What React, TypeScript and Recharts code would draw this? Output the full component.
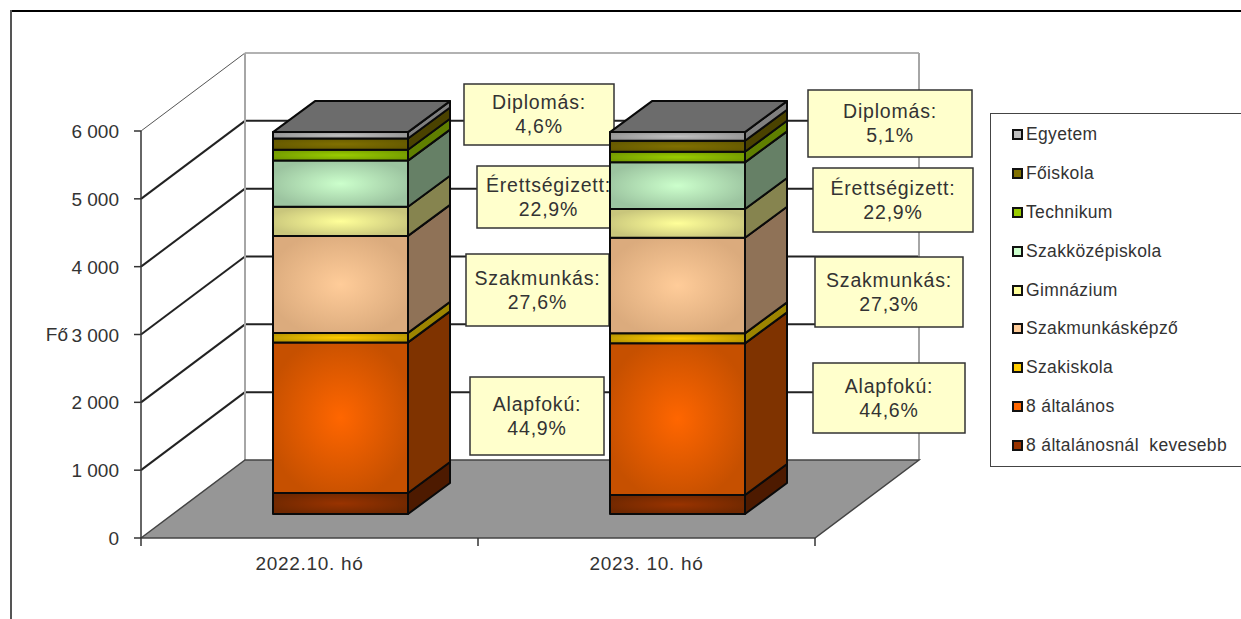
import { Bar, BarChart, CartesianGrid, Legend, XAxis, YAxis } from 'recharts'

const categories = ['2022.10. hó', '2023. 10. hó']

const lessThanEight = [310, 280]
const eightGrades = [2220, 2236]
const vocationalSchool = [140, 147]
const skilledTraining = [1430, 1410]
const grammarSchool = [430, 423]
const secondaryVocational = [680, 688]
const technicalSchool = [160, 156]
const college = [165, 162]
const university = [95, 128]

const yTicks = [0, 1000, 2000, 3000, 4000, 5000, 6000]

const calloutNames = ['Diplomás:', 'Érettségizett:', 'Szakmunkás:', 'Alapfokú:']
const calloutValues = [
    ['4,6%', '22,9%', '27,6%', '44,9%'],
    ['5,1%', '22,9%', '27,3%', '44,6%'],
]

// left, top, right, bottom of the yellow boxes
const calloutBoxes = [
    [
        [464, 84, 614, 145],
        [477, 166, 620, 228],
        [466, 254, 609, 326],
        [470, 377, 604, 455],
    ],
    [
        [808, 90, 972, 157],
        [813, 168, 973, 232],
        [815, 257, 963, 327],
        [813, 363, 965, 433],
    ],
]

const series = [
    { key: 'less', name: '8 általánosnál  kevesebb', values: lessThanEight, center: '#993300', edge: '#702800', side: '#4d1a00' },
    { key: 'eight', name: '8 általános', values: eightGrades, center: '#ff6600', edge: '#c65000', side: '#7f3300' },
    { key: 'voc', name: 'Szakiskola', values: vocationalSchool, center: '#ffcc00', edge: '#bd9900', side: '#9c8400' },
    { key: 'skilled', name: 'Szakmunkásképző', values: skilledTraining, center: '#ffcc99', edge: '#dbab7d', side: '#8f7257' },
    { key: 'gram', name: 'Gimnázium', values: grammarSchool, center: '#ffff99', edge: '#c9c67c', side: '#86844f' },
    { key: 'sec', name: 'Szakközépiskola', values: secondaryVocational, center: '#ccffcc', edge: '#9cc4a0', side: '#668066' },
    { key: 'tech', name: 'Technikum', values: technicalSchool, center: '#99cc00', edge: '#759c00', side: '#5f7f00' },
    { key: 'coll', name: 'Főiskola', values: college, center: '#807000', edge: '#665a00', side: '#4a4200' },
    { key: 'uni', name: 'Egyetem', values: university, center: '#c0c0c0', edge: '#969696', side: '#808080' },
]

const data = categories.map((name, i) => {
    const row: Record<string, string | number> = { name }
    series.forEach((s) => {
        row[s.key] = s.values[i]
    })
    return row
})

const FONT = '"Liberation Sans", Arial, sans-serif'
const TEXT = '#333'

// front plane of the chart box
const LEFT = 141
const RIGHT = 815
const TOP = 131
const BOTTOM = 538
// how far the back wall is pushed from the front plane
const WALL_DX = 104
const WALL_DY = 78
// bars stand in the middle of the floor
const BAR_DX = 31
const BAR_DY = 24
const BAR_DEPTH_X = 42
const BAR_DEPTH_Y = 31

const Block = (props: any) => {
    const { x, y, width, height, s, isTop } = props
    const x1 = x + BAR_DX
    const y1 = y - BAR_DY
    const x2 = x1 + width
    const y2 = y1 + height
    const dx = BAR_DEPTH_X
    const dy = BAR_DEPTH_Y
    return (
        <g stroke="#0a0a0a" strokeWidth={2} strokeLinejoin="round">
            <rect x={x1} y={y1} width={width} height={height} fill={`url(#front-${s.key})`} />
            <polygon
                points={`${x2},${y1} ${x2 + dx},${y1 - dy} ${x2 + dx},${y2 - dy} ${x2},${y2}`}
                fill={s.side}
            />
            {isTop && (
                <polygon
                    points={`${x1},${y1} ${x1 + dx},${y1 - dy} ${x2 + dx},${y1 - dy} ${x2},${y1}`}
                    fill="#6c6c6c"
                />
            )}
        </g>
    )
}

// grid lines run up the side wall and then along the back wall
const GridLine = (props: any) => {
    const { y1, index } = props
    if (index === 0 || y1 >= BOTTOM) return <g />
    const isTop = y1 <= TOP
    return (
        <g fill="none">
            <line
                x1={LEFT}
                y1={y1}
                x2={LEFT + WALL_DX}
                y2={y1 - WALL_DY}
                stroke={isTop ? '#555' : '#222'}
                strokeWidth={isTop ? 1 : 2}
            />
            <line
                x1={LEFT + WALL_DX}
                y1={y1 - WALL_DY}
                x2={RIGHT + WALL_DX}
                y2={y1 - WALL_DY}
                stroke={isTop ? '#999' : '#222'}
                strokeWidth={isTop ? 1.5 : 2}
            />
        </g>
    )
}

const YTick = (props: any) => {
    const { y, payload } = props
    const label = String(payload.value).replace(/\B(?=(\d{3})+$)/g, ' ')
    return (
        <g>
            <line x1={LEFT - 7} y1={y} x2={LEFT} y2={y} stroke="#333" strokeWidth={1.5} />
            <text x={119} y={y + 7} textAnchor="end" fontFamily={FONT} fontSize={19} fill={TEXT}>
                {label}
            </text>
        </g>
    )
}

const XTick = (props: any) => {
    const { x, payload, index } = props
    const band = (RIGHT - LEFT) / categories.length
    return (
        <g>
            <line x1={x - band / 2} y1={BOTTOM} x2={x - band / 2} y2={BOTTOM + 8} stroke="#333" strokeWidth={1.5} />
            {index === categories.length - 1 && (
                <line x1={x + band / 2} y1={BOTTOM} x2={x + band / 2} y2={BOTTOM + 8} stroke="#333" strokeWidth={1.5} />
            )}
            <text x={x} y={BOTTOM + 32} textAnchor="middle" fontFamily={FONT} fontSize={19} letterSpacing={0.7} fill={TEXT}>
                {payload.value}
            </text>
        </g>
    )
}

const LegendBox = (props: any) => {
    const items = [...(props.payload || [])].reverse()
    return (
        <div
            style={{
                boxSizing: 'border-box',
                width: 252,
                height: 354,
                background: '#fff',
                border: '1.5px solid #444',
                borderRight: 'none',
                paddingTop: 1,
                fontFamily: FONT,
                fontSize: 17.5,
                letterSpacing: 0.35,
                color: TEXT,
            }}
        >
            {items.map((item: any) => {
                const s = series.find((v) => v.name === item.value)
                return (
                    <div key={item.value} style={{ height: 38.9, display: 'flex', alignItems: 'center', whiteSpace: 'pre' }}>
                        <span
                            style={{
                                boxSizing: 'border-box',
                                width: 11,
                                height: 11,
                                marginLeft: 21,
                                marginRight: 3,
                                border: '2px solid #111',
                                background: s ? s.center : '#ccc',
                            }}
                        />
                        {item.value}
                    </div>
                )
            })}
        </div>
    )
}

const Callouts = () => (
    <g>
        {calloutBoxes.map((boxes, c) =>
            boxes.map((b, i) => {
                const cx = (b[0] + b[2]) / 2
                const cy = (b[1] + b[3]) / 2
                return (
                    <g key={`${c}-${i}`} fontFamily={FONT} fontSize={19.5} letterSpacing={0.8} fill={TEXT} textAnchor="middle">
                        <rect x={b[0]} y={b[1]} width={b[2] - b[0]} height={b[3] - b[1]} fill="#ffffcc" stroke="#333" strokeWidth={1.5} />
                        <text x={cx} y={cy - 5.5}>{calloutNames[i]}</text>
                        <text x={cx} y={cy + 18.5}>{calloutValues[c][i]}</text>
                    </g>
                )
            }),
        )}
    </g>
)

const App = () => {
    return (
        <div style={{ position: 'absolute', left: 0, top: 0, width: 1241, height: 619, background: '#fff', overflow: 'hidden' }}>
            <div style={{ position: 'absolute', left: 10, top: 10, width: 1231, height: 2, background: '#000' }} />
            <div style={{ position: 'absolute', left: 10, top: 10, width: 2, height: 609, background: '#555' }} />
            <BarChart
                width={1241}
                height={619}
                data={data}
                barSize={135}
                margin={{ top: TOP, left: LEFT - 60, right: 1241 - RIGHT, bottom: 619 - BOTTOM - 40 }}
            >
                <defs>
                    {series.map((s) => (
                        <radialGradient key={s.key} id={`front-${s.key}`} cx="50%" cy="50%" r="55%">
                            <stop offset="0%" stopColor={s.center} />
                            <stop offset="100%" stopColor={s.edge} />
                        </radialGradient>
                    ))}
                </defs>

                <polygon
                    points={`${LEFT},${BOTTOM} ${LEFT + WALL_DX},${BOTTOM - WALL_DY} ${RIGHT + WALL_DX},${BOTTOM - WALL_DY} ${RIGHT},${BOTTOM}`}
                    fill="#969696"
                    stroke="none"
                />
                <polyline
                    points={`${LEFT + WALL_DX},${TOP - WALL_DY} ${LEFT + WALL_DX},${BOTTOM - WALL_DY}`}
                    fill="none"
                    stroke="#a6a6a6"
                    strokeWidth={2}
                />
                <polyline
                    points={`${RIGHT + WALL_DX},${TOP - WALL_DY} ${RIGHT + WALL_DX},${BOTTOM - WALL_DY}`}
                    fill="none"
                    stroke="#a6a6a6"
                    strokeWidth={2}
                />
                <polyline
                    points={`${LEFT},${BOTTOM} ${LEFT + WALL_DX},${BOTTOM - WALL_DY} ${RIGHT + WALL_DX},${BOTTOM - WALL_DY} ${RIGHT},${BOTTOM} ${LEFT},${BOTTOM}`}
                    fill="none"
                    stroke="#444"
                    strokeWidth={1.5}
                />

                <CartesianGrid vertical={false} horizontal={GridLine} syncWithTicks />
                <XAxis
                    dataKey="name"
                    height={40}
                    axisLine={false}
                    tickLine={false}
                    tick={XTick}
                    interval={0}
                />
                <YAxis
                    width={60}
                    domain={[0, 6000]}
                    ticks={yTicks}
                    tick={YTick}
                    tickLine={false}
                    axisLine={{ stroke: '#333', strokeWidth: 1.5 }}
                    label={{ value: 'Fő', position: 'left', offset: 13, fontFamily: FONT, fontSize: 19, fill: TEXT }}
                />
                {series.map((s, i) => (
                    <Bar
                        key={s.key}
                        dataKey={s.key}
                        name={s.name}
                        stackId="total"
                        isAnimationActive={false}
                        shape={(p: any) => <Block {...p} s={s} isTop={i === series.length - 1} />}
                    />
                ))}
                <Legend
                    layout="vertical"
                    align="center"
                    verticalAlign="middle"
                    itemSorter={null}
                    content={LegendBox}
                    wrapperStyle={{ position: 'absolute', left: 990, top: 113, width: 252, height: 354 }}
                />
                <Callouts />
            </BarChart>
        </div>
    )
}

export default App
